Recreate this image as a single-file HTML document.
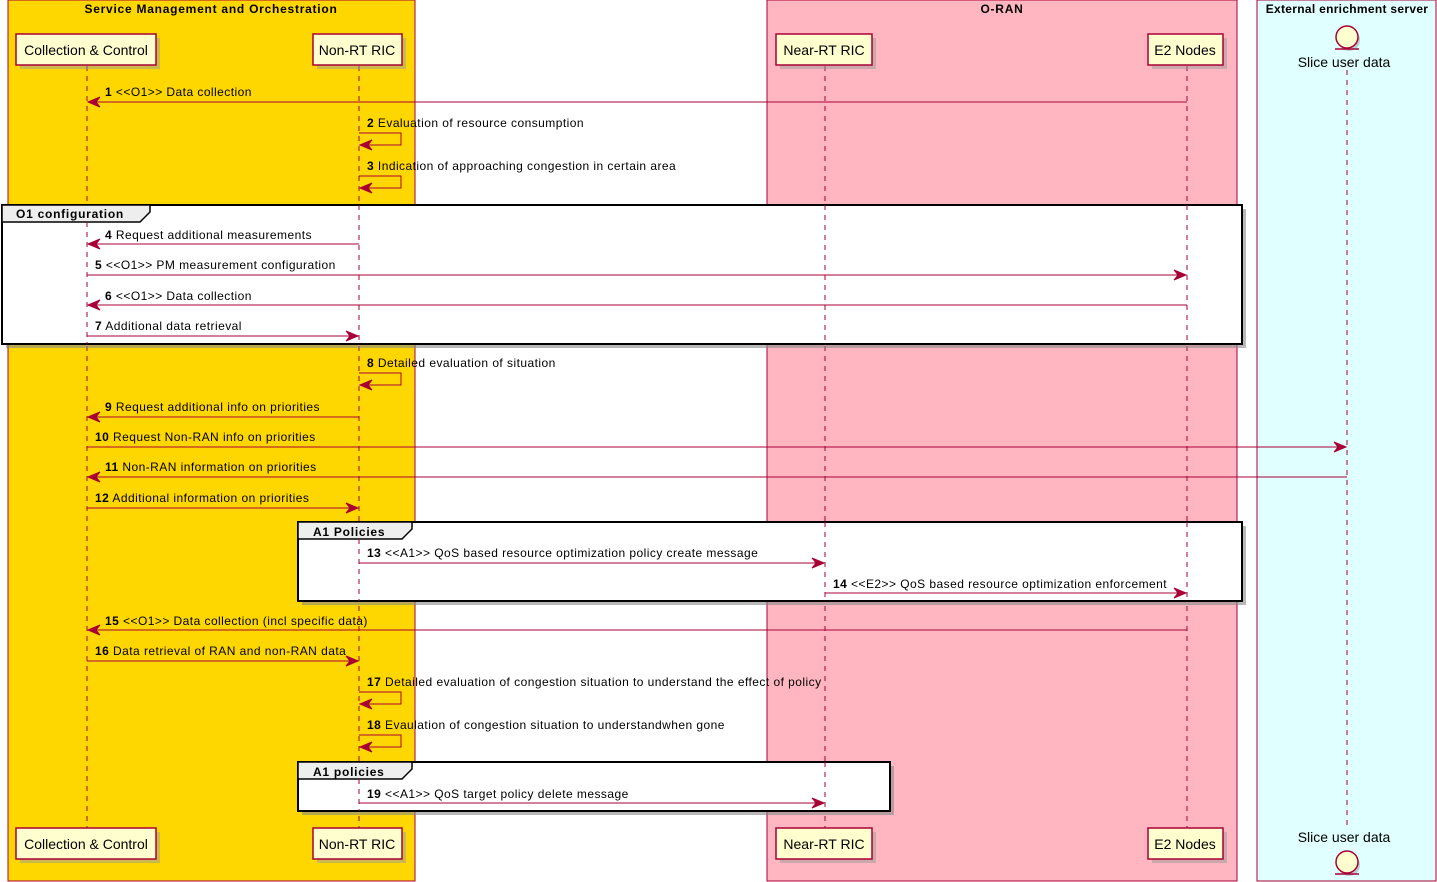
<!DOCTYPE html>
<html><head><meta charset="utf-8"><style>
html,body{margin:0;padding:0;background:#fff}
svg{display:block;font-family:"Liberation Sans",Arial,sans-serif}
.m{font-size:12px;fill:#000;letter-spacing:0.45px}
.b{font-weight:bold}
.t{font-size:12px;font-weight:bold;letter-spacing:0.75px}
.p{font-size:14px;fill:#000}
.ll{stroke:#A80036;stroke-width:1;stroke-dasharray:5,5}
.ar{stroke:#A80036;stroke-width:1;fill:none}
.ah{fill:#A80036;stroke:#A80036}
.pb{fill:#FEFECE;stroke:#A80036;stroke-width:1.5}
.sh{fill:#999;opacity:.5}
.g{fill:#fff;stroke:#000;stroke-width:2}
.gs{fill:#888;opacity:.6}
.gt{fill:#EEEEEE;stroke:#000;stroke-width:1.5}
</style></head><body>
<svg width="1437" height="882" viewBox="0 0 1437 882" xmlns="http://www.w3.org/2000/svg">
<rect x="8" y="0" width="407" height="881" fill="#FFD700" stroke="#A80036"/>
<text x="211" y="13" text-anchor="middle" class="t">Service Management and Orchestration</text>
<rect x="767" y="0" width="470" height="881" fill="#FFB6C1" stroke="#A80036"/>
<text x="1002" y="13" text-anchor="middle" class="t">O-RAN</text>
<rect x="1257" y="0" width="179" height="881" fill="#E0FFFF" stroke="#A80036"/>
<text x="1347" y="13" text-anchor="middle" class="t" style="letter-spacing:0.3px">External enrichment server</text>

<line x1="87" y1="66" x2="87" y2="828" class="ll"/>
<line x1="359" y1="66" x2="359" y2="828" class="ll"/>
<line x1="825" y1="66" x2="825" y2="828" class="ll"/>
<line x1="1187" y1="66" x2="1187" y2="828" class="ll"/>
<line x1="1347" y1="70" x2="1347" y2="826" class="ll"/>

<g>
<rect x="20" y="38" width="140" height="31" class="sh"/><rect x="16" y="34" width="140" height="31" class="pb"/><text x="86" y="55" text-anchor="middle" class="p">Collection &amp; Control</text>
<rect x="317" y="38" width="89" height="31" class="sh"/><rect x="313" y="34" width="89" height="31" class="pb"/><text x="357" y="55" text-anchor="middle" class="p">Non-RT RIC</text>
<rect x="780" y="38" width="96" height="31" class="sh"/><rect x="776" y="34" width="96" height="31" class="pb"/><text x="824" y="55" text-anchor="middle" class="p">Near-RT RIC</text>
<rect x="1152" y="38" width="75" height="31" class="sh"/><rect x="1148" y="34" width="75" height="31" class="pb"/><text x="1185" y="55" text-anchor="middle" class="p">E2 Nodes</text>
<circle cx="1349" cy="40" r="11" class="sh"/><circle cx="1347" cy="37" r="11" class="pb"/><line x1="1335" y1="49" x2="1359" y2="49" stroke="#A80036" stroke-width="1.5"/>
<text x="1344" y="67" text-anchor="middle" class="p">Slice user data</text>
</g>
<g>
<rect x="20" y="832" width="140" height="31" class="sh"/><rect x="16" y="828" width="140" height="31" class="pb"/><text x="86" y="849" text-anchor="middle" class="p">Collection &amp; Control</text>
<rect x="317" y="832" width="89" height="31" class="sh"/><rect x="313" y="828" width="89" height="31" class="pb"/><text x="357" y="849" text-anchor="middle" class="p">Non-RT RIC</text>
<rect x="780" y="832" width="96" height="31" class="sh"/><rect x="776" y="828" width="96" height="31" class="pb"/><text x="824" y="849" text-anchor="middle" class="p">Near-RT RIC</text>
<rect x="1152" y="832" width="75" height="31" class="sh"/><rect x="1148" y="828" width="75" height="31" class="pb"/><text x="1185" y="849" text-anchor="middle" class="p">E2 Nodes</text>
<text x="1344" y="842" text-anchor="middle" class="p">Slice user data</text>
<circle cx="1349" cy="865" r="11" class="sh"/><circle cx="1347" cy="862" r="11" class="pb"/><line x1="1335" y1="874" x2="1359" y2="874" stroke="#A80036" stroke-width="1.5"/>
</g>

<rect x="6" y="209" width="1240" height="139" class="gs"/>
<rect x="2" y="205" width="1240" height="139" class="g"/>
<path d="M2,205 L150,205 L150,212 L140,222 L2,222 Z" class="gt"/>
<text x="16" y="218" class="t">O1 configuration</text>

<rect x="302" y="526" width="944" height="79" class="gs"/>
<rect x="298" y="522" width="944" height="79" class="g"/>
<path d="M298,522 L412,522 L412,529 L402,539 L298,539 Z" class="gt"/>
<text x="313" y="536" class="t">A1 Policies</text>

<rect x="302" y="766" width="592" height="49" class="gs"/>
<rect x="298" y="762" width="592" height="49" class="g"/>
<path d="M298,762 L412,762 L412,769 L402,779 L298,779 Z" class="gt"/>
<text x="313" y="776" class="t">A1 policies</text>

<line x1="87" y1="222" x2="87" y2="344" class="ll"/>
<line x1="359" y1="205" x2="359" y2="344" class="ll"/>
<line x1="825" y1="205" x2="825" y2="344" class="ll"/>
<line x1="1187" y1="205" x2="1187" y2="344" class="ll"/>
<line x1="359" y1="539" x2="359" y2="601" class="ll"/>
<line x1="825" y1="522" x2="825" y2="601" class="ll"/>
<line x1="1187" y1="522" x2="1187" y2="601" class="ll"/>
<line x1="359" y1="779" x2="359" y2="811" class="ll"/>
<line x1="825" y1="762" x2="825" y2="811" class="ll"/>

<g>
<line x1="1187" y1="102" x2="88" y2="102" class="ar"/><path d="M88,102 L100,97 L96,102 L100,107 Z" class="ah"/>
<text x="105" y="96" class="m"><tspan class="b">1</tspan> &lt;&lt;O1&gt;&gt; Data collection</text>
<path d="M359,133 H401 V145 H360" class="ar"/><path d="M360,145 L372,140 L368,145 L372,150 Z" class="ah"/>
<text x="367" y="127" class="m"><tspan class="b">2</tspan> Evaluation of resource consumption</text>
<path d="M359,176 H401 V188 H360" class="ar"/><path d="M360,188 L372,183 L368,188 L372,193 Z" class="ah"/>
<text x="367" y="170" class="m"><tspan class="b">3</tspan> Indication of approaching congestion in certain area</text>
<line x1="359" y1="244" x2="88" y2="244" class="ar"/><path d="M88,244 L100,239 L96,244 L100,249 Z" class="ah"/>
<text x="105" y="239" class="m"><tspan class="b">4</tspan> Request additional measurements</text>
<line x1="87" y1="275" x2="1186" y2="275" class="ar"/><path d="M1186,275 L1174,270 L1178,275 L1174,280 Z" class="ah"/>
<text x="95" y="269" class="m"><tspan class="b">5</tspan> &lt;&lt;O1&gt;&gt; PM measurement configuration</text>
<line x1="1187" y1="305" x2="88" y2="305" class="ar"/><path d="M88,305 L100,300 L96,305 L100,310 Z" class="ah"/>
<text x="105" y="300" class="m"><tspan class="b">6</tspan> &lt;&lt;O1&gt;&gt; Data collection</text>
<line x1="87" y1="336" x2="358" y2="336" class="ar"/><path d="M358,336 L346,331 L350,336 L346,341 Z" class="ah"/>
<text x="95" y="330" class="m"><tspan class="b">7</tspan> Additional data retrieval</text>
<path d="M359,373 H401 V385 H360" class="ar"/><path d="M360,385 L372,380 L368,385 L372,390 Z" class="ah"/>
<text x="367" y="367" class="m"><tspan class="b">8</tspan> Detailed evaluation of situation</text>
<line x1="359" y1="417" x2="88" y2="417" class="ar"/><path d="M88,417 L100,412 L96,417 L100,422 Z" class="ah"/>
<text x="105" y="411" class="m"><tspan class="b">9</tspan> Request additional info on priorities</text>
<line x1="87" y1="447" x2="1346" y2="447" class="ar"/><path d="M1346,447 L1334,442 L1338,447 L1334,452 Z" class="ah"/>
<text x="95" y="441" class="m"><tspan class="b">10</tspan> Request Non-RAN info on priorities</text>
<line x1="1347" y1="477" x2="88" y2="477" class="ar"/><path d="M88,477 L100,472 L96,477 L100,482 Z" class="ah"/>
<text x="105" y="471" class="m"><tspan class="b">11</tspan> Non-RAN information on priorities</text>
<line x1="87" y1="508" x2="358" y2="508" class="ar"/><path d="M358,508 L346,503 L350,508 L346,513 Z" class="ah"/>
<text x="95" y="502" class="m"><tspan class="b">12</tspan> Additional information on priorities</text>
<line x1="359" y1="563" x2="824" y2="563" class="ar"/><path d="M824,563 L812,558 L816,563 L812,568 Z" class="ah"/>
<text x="367" y="557" class="m"><tspan class="b">13</tspan> &lt;&lt;A1&gt;&gt; QoS based resource optimization policy create message</text>
<line x1="825" y1="593" x2="1186" y2="593" class="ar"/><path d="M1186,593 L1174,588 L1178,593 L1174,598 Z" class="ah"/>
<text x="833" y="588" class="m"><tspan class="b">14</tspan> &lt;&lt;E2&gt;&gt; QoS based resource optimization enforcement</text>
<line x1="1187" y1="630" x2="88" y2="630" class="ar"/><path d="M88,630 L100,625 L96,630 L100,635 Z" class="ah"/>
<text x="105" y="625" class="m"><tspan class="b">15</tspan> &lt;&lt;O1&gt;&gt; Data collection (incl specific data)</text>
<line x1="87" y1="661" x2="358" y2="661" class="ar"/><path d="M358,661 L346,656 L350,661 L346,666 Z" class="ah"/>
<text x="95" y="655" class="m"><tspan class="b">16</tspan> Data retrieval of RAN and non-RAN data</text>
<path d="M359,692 H401 V704 H360" class="ar"/><path d="M360,704 L372,699 L368,704 L372,709 Z" class="ah"/>
<text x="367" y="686" class="m"><tspan class="b">17</tspan> Detailed evaluation of congestion situation to understand the effect of policy</text>
<path d="M359,735 H401 V747 H360" class="ar"/><path d="M360,747 L372,742 L368,747 L372,752 Z" class="ah"/>
<text x="367" y="729" class="m"><tspan class="b">18</tspan> Evaulation of congestion situation to understandwhen gone</text>
<line x1="359" y1="803" x2="824" y2="803" class="ar"/><path d="M824,803 L812,798 L816,803 L812,808 Z" class="ah"/>
<text x="367" y="798" class="m"><tspan class="b">19</tspan> &lt;&lt;A1&gt;&gt; QoS target policy delete message</text>
</g>
</svg>
</body></html>
